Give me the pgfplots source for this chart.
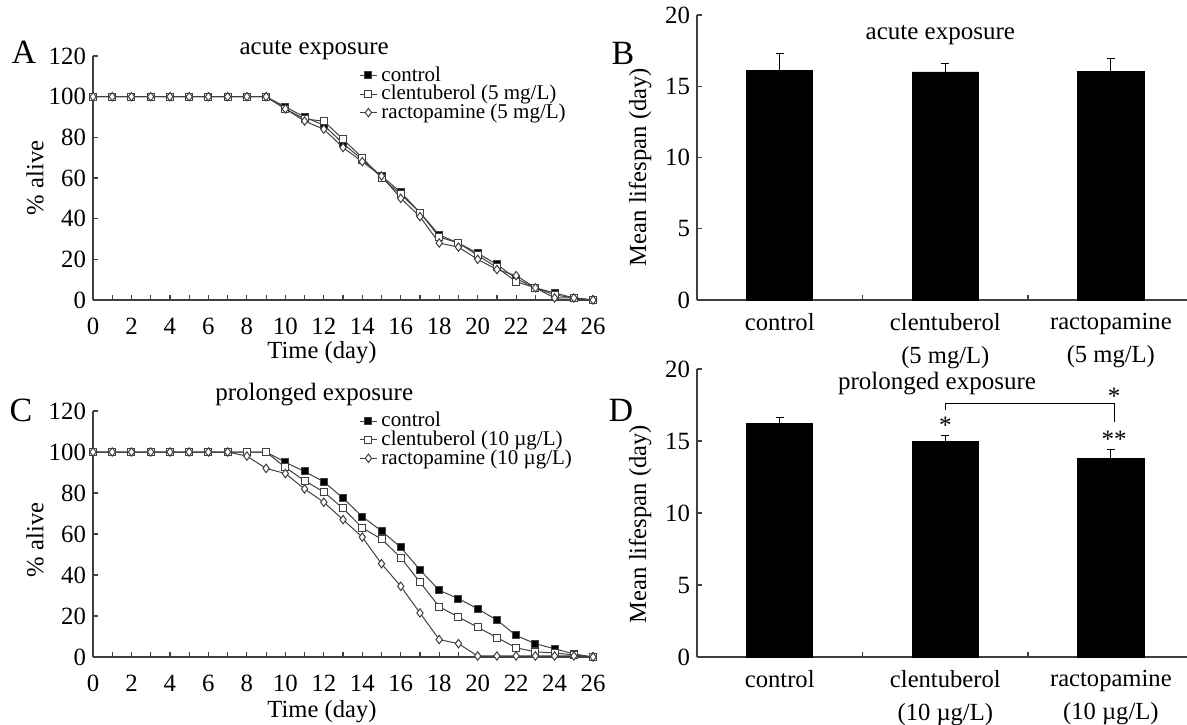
\documentclass[border=0pt]{standalone}
\usepackage{fontspec}
\setmainfont{Liberation Serif}
\usepackage{pgfplots}
\usepackage{pgfplotstable}
\pgfplotsset{compat=1.18}

% survival curves, % alive per day
\pgfplotstableread{
day ctrl clen ract
0 100 100 100
1 100 100 100
2 100 100 100
3 100 100 100
4 100 100 100
5 100 100 100
6 100 100 100
7 100 100 100
8 100 100 100
9 100 100 100
10 95 94 94
11 90 89 88
12 86 88 84
13 77 79 75
14 69 70 68
15 61 60 61
16 53 52 50
17 43 43 41
18 32 31 28
19 28 28 26
20 23 22 20
21 17.5 16 15
22 10.5 9 12
23 6 6 6
24 3.5 2.5 1
25 1 1 1
26 0 0 0
}\acutetab

\pgfplotstableread{
day ctrl clen ract
0 100 100 100
1 100 100 100
2 100 100 100
3 100 100 100
4 100 100 100
5 100 100 100
6 100 100 100
7 100 100 100
8 100 100 98
9 100 100 92
10 95 92.5 89.5
11 90.5 86 82
12 85.5 80.5 75.5
13 77.5 72.5 67
14 68.5 63 58.5
15 61.5 57.5 45.5
16 53.5 48.5 34.5
17 42.5 36.5 21.5
18 32.5 24.5 8.5
19 28.5 19.5 6.5
20 23.5 14.5 0.5
21 18 9.5 0.5
22 10.5 4.5 0.5
23 6.5 2.5 0.5
24 4 2 0.5
25 1.5 1 0.5
26 0 0 0
}\prolongtab

\pgfplotsset{
  every axis/.append style={
    scale only axis,
    axis lines*=left,
    axis line style={draw=black!75, line width=0.6pt},
    tick style={draw=black!75, line width=0.6pt},
    tick align=inside,
    major tick length=2.5pt,
    minor tick length=2.5pt,
    tick label style={font=\fontsize{12.4}{14}\selectfont},
    /pgf/number format/assume math mode=true,
    clip=false,
  },
  survival/.style={
    xmin=0, xmax=26.1, ymin=0, ymax=120,
    xtick={0,2,...,26}, minor xtick={1,3,...,25},
    ytick={0,20,...,120},
    xticklabel style={yshift=-5.5pt},
    legend cell align=left,
    legend style={draw=none, fill=none, font=\fontsize{10.5}{12}\selectfont,
      row sep=0.5pt, nodes={inner ysep=0pt, inner xsep=2pt}},
    legend image code/.code={\draw[mark repeat=2,mark phase=2,##1] plot coordinates {(0pt,0pt) (4.25pt,0pt) (8.5pt,0pt)};},
  },
  curve/.style={draw=black!75, line width=0.5pt, mark size=1.75pt},
  ctrlc/.style={curve, mark=square*, mark options={fill=black, draw=black!75}},
  clenc/.style={curve, mark=square*, mark options={fill=white, draw=black!75}},
  ractc/.style={curve, mark=diamond*, mark size=2.1pt, mark options={fill=white, draw=black!75}},
  lifespan/.style={
    xmin=-0.5, xmax=2.46, ymin=0, ymax=20,
    ytick={0,5,...,20},
    xtick={0,1,2}, minor xtick={0.5,1.5},
    major x tick style={draw=none},
    xticklabel style={align=center, yshift=-3pt, font=\fontsize{12.3}{16.5}\selectfont},
  },
  bars/.style={ybar, bar width=0.4, fill=black, draw=black,
    error bars/.cd, y dir=plus, y explicit,
    error bar style={black, line width=0.5pt}},
}

\begin{document}
\begin{tikzpicture}
\useasboundingbox (0pt,0pt) rectangle (593.5pt,362pt);

% ---- A: acute exposure, survival
\begin{axis}[survival, at={(46.5pt,212pt)}, anchor=south west, width=251pt, height=122pt,
  legend style={at={(axis cs:13.52,101.3)}, anchor=west}]
  \addplot[ctrlc] table[x=day, y=ctrl] {\acutetab};
  \addplot[clenc] table[x=day, y=clen] {\acutetab};
  \addplot[ractc] table[x=day, y=ract] {\acutetab};
  \legend{control, clentuberol (5 mg/L), ractopamine (5 mg/L)}
  \node[font=\fontsize{12.5}{14}\selectfont] at (axis cs:11.5,123) {acute exposure};
\end{axis}

% ---- C: prolonged exposure, survival
\begin{axis}[survival, at={(46.5pt,33.5pt)}, anchor=south west, width=251pt, height=123pt,
  legend style={at={(axis cs:13.52,106)}, anchor=west}]
  \addplot[ctrlc] table[x=day, y=ctrl] {\prolongtab};
  \addplot[clenc] table[x=day, y=clen] {\prolongtab};
  \addplot[ractc] table[x=day, y=ract] {\prolongtab};
  \legend{control, clentuberol (10 µg/L), ractopamine (10 µg/L)}
  \node[font=\fontsize{12.5}{14}\selectfont] at (axis cs:11.5,128) {prolonged exposure};
\end{axis}

% ---- B: acute exposure, mean lifespan
\begin{axis}[lifespan, at={(348.5pt,212pt)}, anchor=south west, width=245pt, height=142.5pt,
  xticklabels={control, {clentuberol\\(5 mg/L)}, {ractopamine\\(5 mg/L)}}]
  \addplot[bars] coordinates {(0,16.1) +- (0,1.2) (1,16.0) +- (0,0.6) (2,16.05) +- (0,0.9)};
  \node[font=\fontsize{12.5}{14}\selectfont] at (axis cs:0.97,18.6) {acute exposure};
\end{axis}

% ---- D: prolonged exposure, mean lifespan
\begin{axis}[lifespan, at={(348.5pt,33.5pt)}, anchor=south west, width=245pt, height=144pt,
  xticklabels={control, {clentuberol\\(10 µg/L)}, {ractopamine\\(10 µg/L)}}]
  \addplot[bars] coordinates {(0,16.2) +- (0,0.45) (1,15.0) +- (0,0.4) (2,13.8) +- (0,0.6)};
  \node[font=\fontsize{12.5}{14}\selectfont] at (axis cs:0.95,18.96) {prolonged exposure};
  \draw[black, line width=0.5pt] (axis cs:1,17.15) -- (axis cs:1,17.6) -- (axis cs:2.02,17.6) -- (axis cs:2.02,16.3);
  \node[font=\fontsize{12.5}{14}\selectfont] at (axis cs:2.02,18.1) {*};
  \node[font=\fontsize{12.5}{14}\selectfont] at (axis cs:1,16.1) {*};
  \node[font=\fontsize{12.5}{14}\selectfont] at (axis cs:2.02,15.1) {**};
\end{axis}

% panel letters and axis titles
\node[font=\fontsize{17}{19}\selectfont] at (12pt,336pt) {A};
\node[font=\fontsize{17}{19}\selectfont] at (10.5pt,157pt) {C};
\node[font=\fontsize{17}{19}\selectfont] at (311.5pt,335.5pt) {B};
\node[font=\fontsize{17}{19}\selectfont] at (310.5pt,157pt) {D};
\node[font=\fontsize{12.3}{14}\selectfont, rotate=90] at (17.5pt,273pt) {\% alive};
\node[font=\fontsize{12.3}{14}\selectfont, rotate=90] at (17.5pt,92pt) {\% alive};
\node[font=\fontsize{12.3}{14}\selectfont] at (161pt,185.5pt) {Time (day)};
\node[font=\fontsize{12.3}{14}\selectfont] at (161pt,6pt) {Time (day)};
\node[font=\fontsize{12.3}{14}\selectfont, rotate=90] at (320pt,278.5pt) {Mean lifespan (day)};
\node[font=\fontsize{12.3}{14}\selectfont, rotate=90] at (320pt,100pt) {Mean lifespan (day)};
\end{tikzpicture}
\end{document}
